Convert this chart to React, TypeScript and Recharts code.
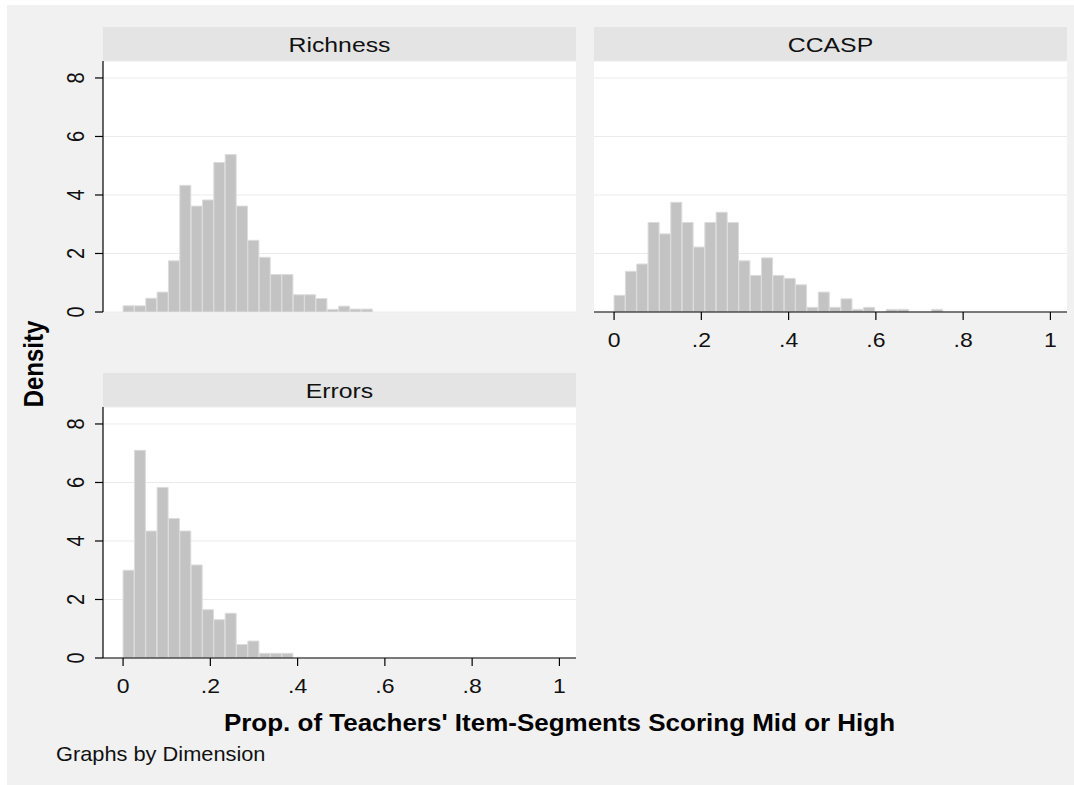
import React from "react";
import { BarChart, Bar, XAxis, YAxis, CartesianGrid } from "recharts";

// ---- data ----
const BIN_WIDTH = 0.026;
const panelTitles = ["Richness", "CCASP", "Errors"];
const richnessDensity = [0.21, 0.21, 0.47, 0.68, 1.75, 4.33, 3.62, 3.83, 5.11, 5.38, 3.62, 2.45, 1.87, 1.28, 1.28, 0.59, 0.59, 0.46, 0.09, 0.2, 0.1, 0.1];
const ccaspDensity = [0.57, 1.39, 1.64, 3.06, 2.67, 3.75, 3.06, 2.22, 3.06, 3.41, 3.06, 1.75, 1.25, 1.85, 1.25, 1.15, 0.93, 0.16, 0.68, 0.16, 0.45, 0.09, 0.16, 0, 0.09, 0.09, 0, 0, 0.09];
const errorsDensity = [3.0, 7.1, 4.34, 5.83, 4.77, 4.34, 3.18, 1.65, 1.31, 1.53, 0.46, 0.58, 0.16, 0.16, 0.16];
const xTickValues = [0, 0.2, 0.4, 0.6, 0.8, 1];
const xTickLabels = ["0", ".2", ".4", ".6", ".8", "1"];
const yTickValues = [0, 2, 4, 6, 8];
const yTickLabels = ["0", "2", "4", "6", "8"];
const xAxisTitle = "Prop. of Teachers' Item-Segments Scoring Mid or High";
const yAxisTitle = "Density";
const noteText = "Graphs by Dimension";

const toBins = (vals: number[]) => vals.map((d, i) => ({ x: +((i + 0.5) * BIN_WIDTH).toFixed(4), d }));

const X_DOMAIN: [number, number] = [-0.046, 1.038];
const Y_DOMAIN: [number, number] = [0, 8.58];
const FONT = "'Liberation Sans', Arial, Helvetica, sans-serif";
const BAR_FILL = "#c3c3c3";
const BAR_STROKE = "#dcdcdc";
const GRID = "#ebebeb";
const STRIP = "#e4e4e4";
const BG = "#f1f1f1";

const XTick = (props: any) => {
  const { x, y, payload } = props;
  const idx = xTickValues.indexOf(payload.value);
  return (
    <text transform={`translate(${x},${y + 25}) scale(1.15,1)`} textAnchor="middle" fontSize={20} fill="#111" fontFamily={FONT}>
      {idx >= 0 ? xTickLabels[idx] : String(payload.value)}
    </text>
  );
};

const YTick = (props: any) => {
  const { x, y, payload } = props;
  const idx = yTickValues.indexOf(payload.value);
  return (
    <text transform={`translate(${x - 9},${y}) scale(1.18,1) rotate(-90)`} textAnchor="middle" fontSize={20} fill="#111" fontFamily={FONT}>
      {idx >= 0 ? yTickLabels[idx] : String(payload.value)}
    </text>
  );
};

type PanelProps = {
  values: number[];
  showY: boolean;
  showX: boolean;
  width: number;
  height: number;
  margin: { top: number; right: number; bottom: number; left: number };
};

const Panel = ({ values, showY, showX, width, height, margin }: PanelProps) => (
  <BarChart width={width} height={height} data={toBins(values)} margin={margin} barCategoryGap={0} barGap={0}>
    <CartesianGrid fill="#ffffff" stroke={GRID} vertical={false} />
    <XAxis
      type="number"
      dataKey="x"
      domain={X_DOMAIN}
      ticks={xTickValues}
      interval={0}
      hide={!showX}
      height={48}
      tickSize={8}
      tickMargin={2}
      tick={<XTick />}
      axisLine={{ stroke: "#000", strokeWidth: 1.2 }}
      tickLine={{ stroke: "#000", strokeWidth: 1.2 }}
      allowDataOverflow
    />
    <YAxis
      type="number"
      domain={Y_DOMAIN}
      ticks={yTickValues}
      interval={0}
      hide={!showY}
      width={63}
      tickSize={8}
      tickMargin={2}
      tick={<YTick />}
      axisLine={{ stroke: "#000", strokeWidth: 1.2 }}
      tickLine={{ stroke: "#000", strokeWidth: 1.2 }}
      allowDataOverflow
    />
    <Bar dataKey="d" fill={BAR_FILL} stroke={BAR_STROKE} strokeWidth={1} isAnimationActive={false} />
  </BarChart>
);

export default function App() {
  return (
    <div style={{ position: "absolute", left: 0, top: 0, width: 1074, height: 785, background: "#ffffff", fontFamily: FONT, overflow: "hidden" }}>
      <svg width={1074} height={785} style={{ position: "absolute", left: 0, top: 0 }}>
        <rect x={7} y={5} width={1067} height={780} fill={BG} />
        <rect x={103} y={27} width={473} height={34} fill={STRIP} />
        <rect x={594} y={27} width={473} height={34} fill={STRIP} />
        <rect x={103} y={373} width={473} height={34} fill={STRIP} />
        <text transform="translate(339.5,52) scale(1.18,1)" textAnchor="middle" fontSize={21} fill="#111" fontFamily={FONT}>{panelTitles[0]}</text>
        <text transform="translate(830.5,52) scale(1.18,1)" textAnchor="middle" fontSize={21} fill="#111" fontFamily={FONT}>{panelTitles[1]}</text>
        <text transform="translate(339.5,398) scale(1.18,1)" textAnchor="middle" fontSize={21} fill="#111" fontFamily={FONT}>{panelTitles[2]}</text>
        <text transform="translate(43,364) scale(1.15,1) rotate(-90)" textAnchor="middle" fontSize={24} fontWeight="bold" fill="#000" fontFamily={FONT}>{yAxisTitle}</text>
        <text transform="translate(559.5,731) scale(1.13,1)" textAnchor="middle" fontSize={23} fontWeight="bold" fill="#000" fontFamily={FONT}>{xAxisTitle}</text>
        <text transform="translate(56,761) scale(1.09,1)" textAnchor="start" fontSize={20} fill="#111" fontFamily={FONT}>{noteText}</text>
      </svg>
      <div style={{ position: "absolute", left: 0, top: 0 }}>
        <Panel values={richnessDensity} showY showX={false} width={590} height={330} margin={{ top: 61, right: 14, bottom: 18, left: 40 }} />
      </div>
      <div style={{ position: "absolute", left: 580, top: 0 }}>
        <Panel values={ccaspDensity} showY={false} showX width={494} height={360} margin={{ top: 61, right: 7, bottom: 0, left: 14 }} />
      </div>
      <div style={{ position: "absolute", left: 0, top: 346 }}>
        <Panel values={errorsDensity} showY showX width={590} height={360} margin={{ top: 61, right: 14, bottom: 0, left: 40 }} />
      </div>
    </div>
  );
}
